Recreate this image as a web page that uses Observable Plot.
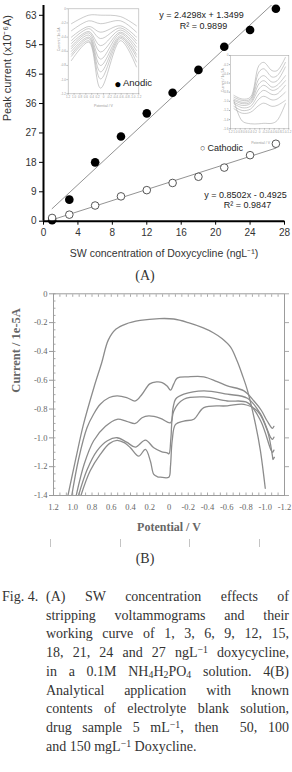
<!DOCTYPE html>
<html><head><meta charset="utf-8">
<script src="https://cdn.jsdelivr.net/npm/d3@7"></script>
<script src="https://cdn.jsdelivr.net/npm/@observablehq/plot@0.6"></script>
<style>
body{margin:0;background:#fff;}
#page{position:relative;width:292px;height:772px;overflow:hidden;background:#fff;}
.abs{position:absolute;}
.sub{font-size:0.7em;vertical-align:-0.25em;line-height:0;}
.sup{font-size:0.7em;vertical-align:0.45em;line-height:0;}
#cap{position:absolute;top:588px;left:0;width:292px;font-family:"Liberation Serif","Times New Roman",serif;font-size:14px;line-height:18.7px;color:#333;}
#cap .j{text-align:justify;text-align-last:justify;}
.mk{position:absolute;top:539px;width:1px;height:8px;background:#c4c4c4;}
.lbl{position:absolute;font-family:"Liberation Serif","Times New Roman",serif;font-size:14px;color:#333;transform:translate(-50%,-50%);}
</style></head>
<body><div id="page">
<div id="insetL" class="abs" style="left:55px;top:0px"></div>
<div id="insetR" class="abs" style="left:218px;top:50px"></div>
<div id="chartA" class="abs" style="left:0;top:0"></div>
<div class="lbl" style="left:145px;top:276px">(A)</div>
<div id="chartB" class="abs" style="left:0;top:270px"></div>
<div class="mk" style="left:50px"></div>
<div class="mk" style="left:120px"></div>
<div class="mk" style="left:189px"></div>
<div class="mk" style="left:259px"></div>
<div class="lbl" style="left:145px;top:559px">(B)</div>
<div id="cap">
  <div style="position:absolute;left:2px;top:0">Fig. 4.</div>
  <div style="position:absolute;left:46px;width:243px;top:0">
    <div class="j">(A) SW concentration effects of</div>
    <div class="j">stripping voltammograms and their</div>
    <div class="j">working curve of 1, 3, 6, 9, 12, 15,</div>
    <div class="j">18, 21, 24 and 27 ngL<span class="sup">−1</span> doxycycline,</div>
    <div class="j">in a 0.1M NH<span class="sub">4</span>H<span class="sub">2</span>PO<span class="sub">4</span> solution. 4(B)</div>
    <div class="j">Analytical application with known</div>
    <div class="j">contents of electrolyte blank solution,</div>
    <div class="j">drug sample 5 mL<span class="sup">−1</span>, then &nbsp;50, 100</div>
    <div>and 150 mgL<span class="sup">−1</span> Doxycline.</div>
  </div>
</div>
</div>
<script>
// ---------- Chart A data ----------
const concentration = [1, 3, 6, 9, 12, 15, 18, 21, 24, 27];
const anodicCurrent = [0.3, 6.6, 18, 25.9, 33, 39.3, 46.3, 53.4, 58.5, 65];
const cathodicCurrent = [1.0, 2.0, 4.8, 7.6, 9.5, 11.7, 13.6, 16.4, 20.2, 23.7];
const xTicksA = [0, 4, 8, 12, 16, 20, 24, 28];
const yTicksA = [0, 9, 18, 27, 36, 45, 54, 63];
const xLabelA = "SW concentration of Doxycycline (ngL⁻¹)";
const yLabelA = "Peak current (x10⁻⁶A)";
const anodicEq = ["y = 2.4298x + 1.3499", "R² = 0.9899"];
const cathodicEq = ["y = 0.8502x - 0.4925", "R² = 0.9847"];

// ---------- Chart B data (potential V, current 1e-5A) ----------
const potentialTicks = [1.2, 1.0, 0.8, 0.6, 0.4, 0.2, 0, -0.2, -0.4, -0.6, -0.8, -1.0, -1.2];
const currentTicks = [0, -0.2, -0.4, -0.6, -0.8, -1.0, -1.2, -1.4];
const blankCurve = [[1.05,-1.40],[0.97,-1.15],[0.89,-0.91],[0.78,-0.65],[0.70,-0.48],[0.63,-0.32],[0.55,-0.245],[0.45,-0.21],[0.30,-0.185],[0.10,-0.172],[-0.05,-0.175],[-0.20,-0.20],[-0.35,-0.235],[-0.46,-0.27],[-0.55,-0.31],[-0.64,-0.37],[-0.71,-0.47],[-0.76,-0.56],[-0.815,-0.67],[-0.90,-0.91],[-0.95,-1.09],[-1.0,-1.35]];
const sample5Curve = [[1.01,-1.40],[0.94,-1.15],[0.852,-0.93],[0.784,-0.836],[0.714,-0.767],[0.62,-0.72],[0.54,-0.709],[0.44,-0.72],[0.349,-0.744],[0.28,-0.697],[0.20,-0.625],[0.13,-0.612],[0.071,-0.616],[0.02,-0.64],[-0.016,-0.669],[-0.05,-0.625],[-0.085,-0.585],[-0.2,-0.576],[-0.362,-0.576],[-0.5,-0.61],[-0.606,-0.639],[-0.779,-0.674],[-0.883,-0.744],[-0.96,-0.81],[-1.02,-0.883],[-1.075,-0.934],[-1.09,-0.92]];
const added50Curve = [[0.964,-1.40],[0.88,-1.18],[0.783,-1.02],[0.66,-0.92],[0.54,-0.871],[0.44,-0.885],[0.349,-0.90],[0.28,-0.86],[0.21,-0.848],[0.089,-0.864],[-0.016,-0.895],[-0.04,-0.80],[-0.068,-0.732],[-0.154,-0.697],[-0.362,-0.674],[-0.606,-0.697],[-0.815,-0.725],[-0.953,-0.836],[-1.057,-0.999],[-1.075,-1.01],[-1.09,-0.995]];
const added100Curve = [[0.94,-1.40],[0.85,-1.22],[0.748,-1.09],[0.64,-1.02],[0.54,-0.999],[0.44,-1.03],[0.349,-1.064],[0.245,-1.015],[0.158,-1.069],[0.08,-1.095],[0.019,-1.104],[0.0,-1.11],[-0.02,-1.0],[-0.05,-0.813],[-0.154,-0.732],[-0.362,-0.716],[-0.606,-0.744],[-0.815,-0.755],[-0.953,-0.883],[-1.057,-1.08],[-1.075,-1.10],[-1.09,-1.085]];
const added150Curve = [[0.915,-1.40],[0.82,-1.23],[0.714,-1.115],[0.62,-1.04],[0.54,-1.017],[0.46,-1.035],[0.401,-1.069],[0.315,-1.127],[0.245,-1.08],[0.193,-1.162],[0.158,-1.254],[0.12,-1.27],[0.089,-1.273],[0.002,-1.273],[-0.015,-1.2],[-0.033,-1.02],[-0.068,-0.906],[-0.154,-0.883],[-0.258,-0.871],[-0.362,-0.79],[-0.606,-0.778],[-0.779,-0.767],[-0.918,-0.813],[-1.023,-0.953],[-1.075,-1.127],[-1.08,-1.15],[-1.095,-1.135]];

// ---------- Inset data ----------
const insetLeftPotential = [1.09, 0.50, 0.10, -0.58, -1.12];
const insetLeftCurves = [
  [-0.21,-0.09,-0.09,-0.11,-0.24],
  [-0.31,-0.17,-0.21,-0.17,-0.33],
  [-0.40,-0.25,-0.33,-0.24,-0.40],
  [-0.45,-0.28,-0.42,-0.27,-0.45],
  [-0.49,-0.32,-0.52,-0.30,-0.49],
  [-0.53,-0.34,-0.61,-0.33,-0.54],
  [-0.56,-0.37,-0.71,-0.35,-0.59],
  [-0.60,-0.40,-0.80,-0.38,-0.64],
  [-0.64,-0.42,-0.89,-0.40,-0.68],
  [-0.67,-0.45,-0.99,-0.42,-0.75],
  [-0.73,-0.47,-1.12,-0.45,-0.82]
];
const insetRightPotential = [1.06, 0.72, 0.38, 0.03, -0.17, -0.51, -0.72, -1.06];
const insetRightCurves = [
  [-0.87,-0.95,-0.91,-0.22,-0.15,-0.33,-0.33,-0.04],
  [-0.91,-0.98,-0.95,-0.36,-0.29,-0.47,-0.44,-0.15],
  [-0.95,-1.02,-0.98,-0.51,-0.44,-0.58,-0.55,-0.25],
  [-0.98,-1.05,-1.02,-0.62,-0.55,-0.69,-0.65,-0.44],
  [-1.02,-1.09,-1.05,-0.73,-0.65,-0.76,-0.73,-0.55],
  [-1.05,-1.14,-1.11,-0.84,-0.76,-0.85,-0.84,-0.65],
  [-1.11,-1.20,-1.17,-0.95,-0.89,-0.97,-0.95,-0.80],
  [-1.16,-1.26,-1.24,-1.09,-1.04,-1.11,-1.09,-0.98],
  [-0.98,-1.43,-1.49,-1.49,-1.48,-1.48,-1.42,-1.05]
];
const insetLeftYTicks = [0, -0.2, -0.4, -0.6, -0.8, -1.0, -1.2];
const insetRightYTicks = [0, -0.2, -0.4, -0.6, -0.8, -1.0, -1.2, -1.4, -1.6];

const fmt = d => d === 0 ? "0" : d.toFixed(1);
const ident = d => d;

// ---------- Chart A ----------
const rowsA = concentration.map((c, i) => ({c, anodic: anodicCurrent[i], cathodic: cathodicCurrent[i]}));
const sansA = "Liberation Sans, Arial, sans-serif";
const chartA = Plot.plot({
  width: 292, height: 265,
  marginLeft: 43, marginRight: 8, marginTop: 5, marginBottom: 44.3,
  style: {background: "transparent", fontFamily: sansA, fontSize: "10px", color: "#333", overflow: "visible"},
  x: {domain: [0, 28], label: null},
  y: {domain: [0, 66], label: null},
  marks: [
    Plot.linearRegressionY(rowsA, {x: "c", y: "anodic", ci: 0, stroke: "#777", strokeWidth: 0.8, clip: true}),
    Plot.linearRegressionY(rowsA, {x: "c", y: "cathodic", ci: 0, stroke: "#777", strokeWidth: 0.8, clip: true}),
    Plot.dot(rowsA, {x: "c", y: "anodic", r: 4.3, fill: "#000"}),
    Plot.dot(rowsA, {x: "c", y: "cathodic", r: 3.8, fill: "#fff", stroke: "#444", strokeWidth: 0.9}),
    Plot.axisX({ticks: xTicksA, tickSize: 4, tickPadding: 4, tickFormat: d => String(d), stroke: "#000", fill: "#333"}),
    Plot.axisY({ticks: yTicksA, tickSize: 4, tickPadding: 3, tickFormat: d => String(d), stroke: "#000", fill: "#333"}),
    Plot.ruleX([0], {stroke: "#000", strokeWidth: 2}),
    Plot.ruleY([0], {stroke: "#000", strokeWidth: 2}),
    Plot.text([xLabelA], {text: ident, frameAnchor: "bottom", dy: 35.5, fontSize: 10.5, fill: "#333"}),
    Plot.text([yLabelA], {text: ident, frameAnchor: "left", dx: -36, dy: 8, rotate: -90, fontSize: 11, fill: "#333"}),
    Plot.text([anodicEq[0]], {text: ident, frameAnchor: "top-left", dx: 158, dy: 6, textAnchor: "middle", fontSize: 9, fill: "#222"}),
    Plot.text([anodicEq[1]], {text: ident, frameAnchor: "top-left", dx: 160, dy: 17, textAnchor: "middle", fontSize: 9, fill: "#222"}),
    Plot.text([cathodicEq[0]], {text: ident, frameAnchor: "top-left", dx: 202, dy: 185.7, textAnchor: "middle", fontSize: 9, fill: "#222"}),
    Plot.text([cathodicEq[1]], {text: ident, frameAnchor: "top-left", dx: 204, dy: 196, textAnchor: "middle", fontSize: 9, fill: "#222"}),
    Plot.text(["●"], {text: ident, frameAnchor: "top-left", dx: 74.3, dy: 74, textAnchor: "middle", fontSize: 12, fill: "#000"}),
    Plot.text(["Anodic"], {text: ident, frameAnchor: "top-left", dx: 79.5, dy: 74, textAnchor: "start", fontSize: 9.5, fill: "#222"}),
    Plot.text(["○"], {text: ident, frameAnchor: "top-left", dx: 159.3, dy: 139, textAnchor: "middle", fontSize: 9, fill: "#444"}),
    Plot.text(["Cathodic"], {text: ident, frameAnchor: "top-left", dx: 164, dy: 139, textAnchor: "start", fontSize: 9, fill: "#222"})
  ]
});
document.getElementById("chartA").appendChild(chartA);

// ---------- Insets ----------
function inset(potentials, curves, yDomain, yTicks, o) {
  const rows = curves.flatMap((c, k) => c.map((i, j) => ({k, v: potentials[j], i})));
  return Plot.plot({
    width: o.w, height: o.h,
    marginLeft: o.ml, marginRight: o.mr, marginTop: o.mt, marginBottom: o.mb,
    style: {background: "transparent", fontFamily: sansA, fontSize: "3px", color: "#999", overflow: "visible"},
    x: {domain: [1.2, -1.2], label: null},
    y: {domain: yDomain, label: null},
    marks: [
      Plot.frame({stroke: "#aaa", strokeWidth: 0.6}),
      Plot.line(rows, {x: "v", y: "i", z: "k", curve: "catmull-rom", stroke: "#a8a8a8", strokeWidth: 0.6, clip: true}),
      Plot.axisX({ticks: potentialTicks, tickSize: 1.2, tickPadding: 1, tickFormat: fmt, stroke: "#aaa", fill: "#999"}),
      Plot.axisY({ticks: yTicks, tickSize: 1.2, tickPadding: 1, tickFormat: fmt, stroke: "#aaa", fill: "#999"}),
      Plot.text(["Potential / V"], {text: ident, frameAnchor: "bottom", dy: o.xlDy, dx: o.xlDx, fontSize: 3.5, fill: "#999"}),
      Plot.text(["Current / 1e-5A"], {text: ident, frameAnchor: "left", dx: o.ylDx, rotate: -90, fontSize: 3.5, fill: "#999"})
    ]
  });
}
document.getElementById("insetL").appendChild(inset(insetLeftPotential, insetLeftCurves, [-1.2, 0], insetLeftYTicks,
  {w: 90, h: 112, ml: 12.7, mr: 6.7, mt: 8.3, mb: 18.7, xlDy: 13.5, xlDx: 0, ylDx: -9.5}));
document.getElementById("insetR").appendChild(inset(insetRightPotential, insetRightCurves, [-1.6, 0], insetRightYTicks,
  {w: 74, h: 100, ml: 12, mr: 3.7, mt: 5, mb: 21.7, xlDy: 15.5, xlDx: 1, ylDx: -8}));

// ---------- Chart B ----------
const curvesB = [blankCurve, sample5Curve, added50Curve, added100Curve, added150Curve];
const rowsB = curvesB.flatMap((c, k) => c.map(([v, i]) => ({k, v, i})));
const serifB = "Liberation Serif, Times New Roman, serif";
const minorX = d3.range(0, 37).map(j => 1.2 - j * 0.2 / 3);
const minorY = d3.range(0, 29).map(j => -j * 0.05);
const chartB = Plot.plot({
  width: 292, height: 275,
  marginLeft: 53, marginRight: 8, marginTop: 23.3, marginBottom: 50,
  style: {background: "transparent", fontFamily: serifB, fontSize: "8.5px", color: "#666", overflow: "visible"},
  x: {domain: [1.2, -1.2], label: null},
  y: {domain: [-1.4, 0], label: null},
  marks: [
    Plot.axisX({anchor: "top", ticks: minorX, tickSize: 2.5, dy: 2.5, tickFormat: () => "", stroke: "#aaa"}),
    Plot.axisX({anchor: "bottom", ticks: minorX, tickSize: 2.5, dy: -2.5, tickFormat: () => "", stroke: "#aaa"}),
    Plot.axisY({anchor: "left", ticks: minorY, tickSize: 2.5, dx: 2.5, tickFormat: () => "", stroke: "#aaa"}),
    Plot.axisY({anchor: "right", ticks: currentTicks, tickSize: 4, tickFormat: () => "", stroke: "#aaa"}),
    Plot.axisX({ticks: potentialTicks, tickSize: 0, tickPadding: 8, tickFormat: fmt, fill: "#666"}),
    Plot.axisY({ticks: currentTicks, tickSize: 4, tickPadding: 2, tickFormat: fmt, stroke: "#999", fill: "#666"}),
    Plot.frame({stroke: "#9c9c9c"}),
    Plot.line(rowsB, {x: "v", y: "i", z: "k", curve: "catmull-rom", stroke: "#8c8c8c", strokeWidth: 1.3, clip: true}),
    Plot.text(["Current / 1e-5A"], {text: ident, frameAnchor: "left", dx: -38, dy: -2, rotate: -90, fontSize: 12.5, fontWeight: "bold", fill: "#666"}),
    Plot.text(["Potential / V"], {text: ident, frameAnchor: "bottom", dy: 35, fontSize: 12, fontWeight: "bold", fill: "#666"})
  ]
});
document.getElementById("chartB").appendChild(chartB);
</script>
</body></html>
